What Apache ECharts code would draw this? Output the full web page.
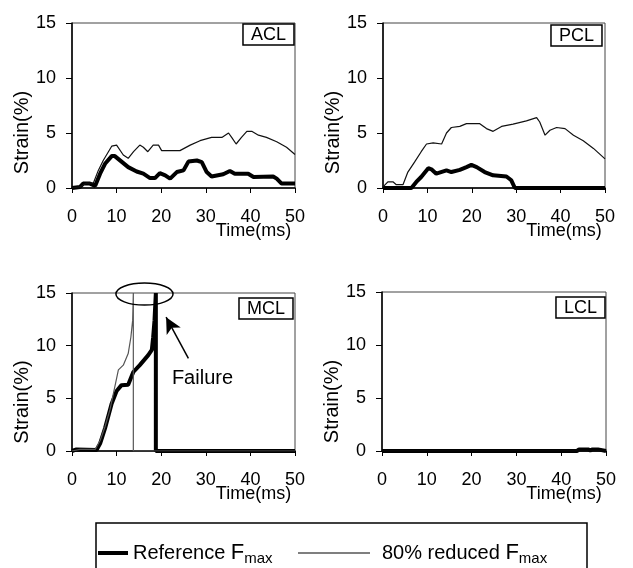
<!DOCTYPE html>
<html>
<head>
<meta charset="utf-8">
<script src="https://cdn.jsdelivr.net/npm/echarts@6/dist/echarts.min.js"></script>
<style>
  html, body { margin: 0; background: #fff; }
  #chart { width: 633px; height: 568px; }
</style>
</head>
<body>
<div id="chart"></div>
<script>
const panels = ['ACL', 'PCL', 'MCL', 'LCL'];
const seriesNames = ['Reference Fmax', '80% reduced Fmax'];
const xTicks = [0, 10, 20, 30, 40, 50];
const yTicks = [0, 5, 10, 15];

// [time ms, strain %]
const aclRef = [[0,0],[1.8,0.1],[2.5,0.4],[4.0,0.4],[5.2,0.2],[6.3,1.3],[7.4,2.2],[8.9,2.9],[9.6,2.9],[11.1,2.4],[12.6,1.9],[14.5,1.5],[16,1.3],[17.5,0.9],[18.6,0.9],[19.7,1.35],[20.9,1.15],[22,0.85],[23.5,1.45],[25,1.6],[26.1,2.4],[28,2.5],[29.1,2.35],[30.2,1.45],[31.3,1.05],[33.9,1.25],[35.4,1.55],[36.5,1.3],[39.5,1.3],[40.7,1.0],[45.1,1.05],[45.9,0.85],[47,0.4],[50,0.4]];
const aclRed = [[0,0],[1.8,0.1],[3.3,0.45],[4.8,0.45],[5.9,1.6],[7,2.5],[8.9,3.8],[10,3.9],[11.5,3.0],[12.6,2.7],[13.8,3.3],[15.2,3.9],[16,3.7],[17,3.3],[18.2,3.9],[19.4,3.9],[20.1,3.4],[24.2,3.4],[26.5,3.9],[28.7,4.3],[31.3,4.6],[33.6,4.6],[35.1,5.0],[35.8,4.6],[36.8,4.0],[38,4.6],[39.2,5.15],[40.3,5.15],[41.8,4.8],[43.6,4.6],[45.9,4.2],[48.1,3.7],[50,3.05]];
const pclRef = [[0,0],[6.4,0],[7.5,0.55],[8.6,1.0],[10.2,1.8],[10.9,1.7],[12.0,1.3],[14.3,1.6],[15.4,1.45],[17.3,1.65],[18.8,1.9],[19.9,2.1],[21.1,1.9],[22.9,1.45],[24.8,1.15],[27.8,1.05],[28.9,0.7],[29.7,0],[50,0]];
const pclRed = [[0,0.1],[1.1,0.55],[2.3,0.55],[3.0,0.3],[4.5,0.3],[5.6,1.45],[7.1,2.35],[8.6,3.3],[9.8,4.0],[11.3,4.1],[13.2,4.0],[14.3,5.0],[15.4,5.5],[17.3,5.6],[18.8,5.85],[21.8,5.85],[23.3,5.4],[24.8,5.15],[26.7,5.6],[29.3,5.8],[32.3,6.1],[34.6,6.4],[35.3,6.0],[36.5,4.8],[37.6,5.25],[39.1,5.5],[41,5.4],[42.9,4.8],[45.1,4.3],[47.4,3.6],[50,2.65]];
const mclRef = [[0,0],[1.0,0.15],[5.5,0.1],[6.3,0.7],[7.4,2.15],[8.9,4.5],[10.0,5.7],[11.1,6.25],[12.6,6.3],[13.75,7.5],[15.2,8.15],[17.1,9.1],[17.9,9.6],[18.2,10.8],[18.5,12.4],[18.8,15],[18.8,0],[50,0]];
const mclRed = [[0,0],[1.8,0.15],[5.2,0.15],[6.3,1.0],[7.4,2.3],[8.5,3.9],[9.3,5.5],[10.4,7.7],[11.5,8.15],[12.6,9.25],[13.2,10.8],[13.6,12.4],[13.75,15],[13.75,0],[50,0]];
const lclRef = [[0,0],[43.5,0],[44,0.15],[46,0.15],[46.5,0.05],[47,0.15],[48.2,0.15],[48.5,0],[50,0]];
const lclRed = [[0,0],[50,0]];

// MCL annotation (data coords)
const failureArrow = [[26.1, 8.8], [21.1, 12.7]];
const failureTextAt = [22.4, 6.9];
const failureRing = { center: [16.25, 14.9], radius: [6.4, 1.05] };

const refData = [aclRef, pclRef, mclRef, lclRef];
const redData = [aclRed, pclRed, mclRed, lclRed];

const font = 'Liberation Sans, Arial, sans-serif';
const grids = [
  { left: 72, right: 338, top: 23, height: 165 },
  { left: 383, right: 28, top: 23, height: 165 },
  { left: 72, right: 338, top: 293, height: 158 },
  { left: 382, right: 27, top: 292, height: 159 }
];
const nameShift = [54, 54, 60, 60];
const labelBox = [
  { right: 339, top: 24 }, { right: 31, top: 25 },
  { right: 340, top: 298 }, { right: 28, top: 297 }
];

const chart = echarts.init(document.getElementById('chart'));

const xAxes = grids.map((g, i) => ({
  gridIndex: i, type: 'value',
  min: xTicks[0], max: xTicks[xTicks.length - 1], interval: xTicks[1] - xTicks[0],
  axisLine: { onZero: false, lineStyle: { color: '#000', width: 1.5 } },
  axisTick: { length: 5, lineStyle: { color: '#000' } },
  axisLabel: { color: '#000', fontSize: 18, margin: 20, fontFamily: font },
  splitLine: { show: false },
  name: 'Time(ms)', nameLocation: 'middle', nameGap: 34, nameMoveOverlap: false,
  nameTextStyle: { color: '#000', fontSize: 18, fontFamily: font, padding: [0, 0, 0, 140] }
}));

const yAxes = grids.map((g, i) => ({
  gridIndex: i, type: 'value',
  min: yTicks[0], max: yTicks[yTicks.length - 1], interval: yTicks[1] - yTicks[0],
  axisLine: { lineStyle: { color: '#000', width: 1.5 } },
  axisTick: { show: true, length: 6, lineStyle: { color: '#000' } },
  axisLabel: { color: '#000', fontSize: 18, margin: 16, fontFamily: font },
  splitLine: { show: false },
  name: 'Strain(%)', nameLocation: 'middle', nameGap: 34,
  nameTextStyle: { color: '#000', fontSize: 20, fontFamily: font, padding: [0, nameShift[i], 0, 0] }
}));

const series = [];
panels.forEach((p, i) => {
  const ref = {
    name: seriesNames[0], type: 'line', xAxisIndex: i, yAxisIndex: i,
    data: refData[i], symbol: 'none', animation: false, color: '#000',
    lineStyle: { color: '#000', width: 4 }
  };
  if (p === 'MCL') {
    ref.markLine = {
      silent: true, symbol: ['none', 'arrow'], symbolSize: [12, 16],
      label: { show: false },
      lineStyle: { color: '#000', width: 1.5, type: 'solid' },
      data: [[{ coord: failureArrow[0] }, { coord: failureArrow[1] }]]
    };
  }
  series.push(ref);
  series.push({
    name: seriesNames[1], type: 'line', xAxisIndex: i, yAxisIndex: i,
    data: redData[i], symbol: 'none', animation: false, color: '#000',
    lineStyle: { color: p === 'MCL' ? '#555' : '#111', width: 1.2 }
  });
});

const legendRich = {
  a: { fontSize: 20, fontFamily: font, color: '#000' },
  f: { fontSize: 22, fontFamily: font, color: '#000' },
  s: { fontSize: 15, fontFamily: font, color: '#000', padding: [12, 0, 0, 0] }
};
const legendFmt = n => '{a|' + n.replace('Fmax', '') + '}{f|F}{s|max}';

chart.setOption({
  animation: false,
  textStyle: { fontFamily: font },
  grid: grids.map(g => Object.assign({ show: true, borderColor: '#444', borderWidth: 1 }, g)),
  xAxis: xAxes,
  yAxis: yAxes,
  title: panels.map((p, i) => ({
    text: p, right: labelBox[i].right, top: labelBox[i].top,
    borderColor: '#000', borderWidth: 1.5, padding: [2, 8, 1, 8],
    textStyle: { fontSize: 18, fontWeight: 'normal', color: '#000', fontFamily: font }
  })),
  legend: [
    { data: [seriesNames[0]], left: 98, top: 542, padding: 0, icon: 'rect',
      itemWidth: 30, itemHeight: 4, itemStyle: { color: '#000' },
      formatter: legendFmt, textStyle: { rich: legendRich } },
    { data: [seriesNames[1]], left: 298, top: 542, padding: 0, icon: 'rect',
      itemWidth: 72, itemHeight: 1.2, itemStyle: { color: '#000' },
      formatter: legendFmt, textStyle: { rich: legendRich, padding: [0, 0, 0, 7] } }
  ],
  series: series
});

const c = chart.convertToPixel({ gridIndex: 2 }, failureRing.center);
const e = chart.convertToPixel({ gridIndex: 2 }, [failureRing.center[0] + failureRing.radius[0], failureRing.center[1] + failureRing.radius[1]]);
const t = chart.convertToPixel({ gridIndex: 2 }, failureTextAt);

chart.setOption({
  graphic: [
    { type: 'ellipse', shape: { cx: c[0], cy: c[1], rx: e[0] - c[0], ry: c[1] - e[1] },
      style: { fill: 'none', stroke: '#000', lineWidth: 1.5 }, z: 100 },
    { type: 'text', x: t[0], y: t[1],
      style: { text: 'Failure', fontSize: 20, fontFamily: font, fill: '#000', verticalAlign: 'middle' }, z: 100 },
    { type: 'rect', shape: { x: 96, y: 523, width: 491, height: 60 },
      style: { fill: 'none', stroke: '#000', lineWidth: 1.5 }, z: 100 }
  ]
});
</script>
</body>
</html>
